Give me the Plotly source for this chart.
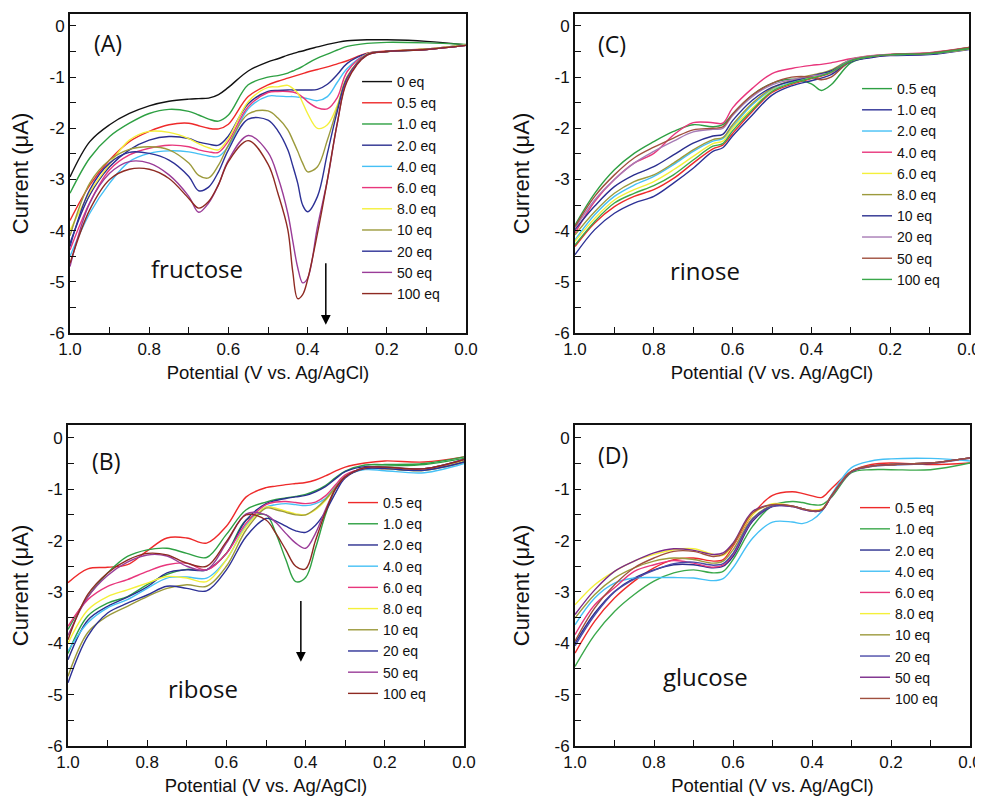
import plotly.graph_objects as go

# ---------------- data: (A) fructose ----------------
A_V = [1.0, 0.95, 0.9, 0.85, 0.8, 0.75, 0.7, 0.675, 0.65, 0.625, 0.6, 0.55, 0.5, 0.475,
       0.45, 0.4375, 0.425, 0.4125, 0.4, 0.375, 0.35, 0.325, 0.3, 0.25, 0.2, 0.1, 0.0]
A_0eq = [-2.95, -2.26, -1.93, -1.71, -1.56, -1.47, -1.43, -1.42, -1.41, -1.34, -1.20, -0.88, -0.70, -0.64,
         -0.57, -0.54, -0.51, -0.49, -0.46, -0.41, -0.36, -0.32, -0.29, -0.27, -0.27, -0.30, -0.37]
A_05eq = [-3.80, -3.11, -2.62, -2.26, -2.06, -1.93, -1.90, -1.95, -2.00, -2.01, -1.92, -1.38, -1.15, -1.08,
          -1.02, -0.99, -0.96, -0.93, -0.90, -0.85, -0.80, -0.74, -0.68, -0.53, -0.49, -0.45, -0.37]
A_1eq = [-3.27, -2.58, -2.16, -1.90, -1.71, -1.63, -1.67, -1.74, -1.82, -1.86, -1.74, -1.15, -1.00, -0.97,
         -0.92, -0.88, -0.84, -0.79, -0.73, -0.63, -0.55, -0.47, -0.40, -0.34, -0.32, -0.33, -0.36]
A_2eq = [-4.25, -3.30, -2.75, -2.42, -2.23, -2.16, -2.20, -2.27, -2.31, -2.33, -2.15, -1.52, -1.28, -1.26,
         -1.25, -1.25, -1.25, -1.25, -1.25, -1.24, -1.14, -0.95, -0.73, -0.54, -0.50, -0.45, -0.37]
A_4eq = [-4.50, -3.66, -3.07, -2.65, -2.49, -2.44, -2.46, -2.50, -2.54, -2.55, -2.35, -1.62, -1.37, -1.37,
         -1.38, -1.38, -1.39, -1.40, -1.42, -1.46, -1.38, -1.10, -0.83, -0.55, -0.50, -0.46, -0.37]
A_6eq = [-4.38, -3.45, -2.81, -2.52, -2.39, -2.33, -2.36, -2.42, -2.46, -2.47, -2.25, -1.58, -1.30, -1.28,
         -1.28, -1.29, -1.32, -1.39, -1.48, -1.60, -1.62, -1.40, -0.89, -0.55, -0.50, -0.46, -0.38]
A_8eq = [-4.00, -3.25, -2.70, -2.23, -2.06, -2.08, -2.20, -2.30, -2.38, -2.42, -2.20, -1.48, -1.20, -1.19,
         -1.16, -1.22, -1.31, -1.50, -1.71, -2.00, -1.93, -1.55, -1.00, -0.55, -0.50, -0.45, -0.37]
A_10eq = [-4.10, -3.07, -2.62, -2.41, -2.36, -2.42, -2.68, -2.92, -2.97, -2.72, -2.33, -1.72, -1.66, -1.80,
          -2.03, -2.23, -2.45, -2.68, -2.85, -2.75, -2.23, -1.60, -0.99, -0.56, -0.50, -0.46, -0.38]
A_20eq = [-4.31, -3.20, -2.68, -2.47, -2.49, -2.62, -2.94, -3.22, -3.15, -2.85, -2.42, -1.82, -1.84, -2.05,
          -2.42, -2.73, -3.07, -3.50, -3.63, -3.33, -2.49, -1.67, -1.02, -0.56, -0.50, -0.46, -0.38]
A_50eq = [-4.70, -3.46, -2.88, -2.65, -2.68, -2.91, -3.33, -3.64, -3.46, -3.10, -2.62, -2.14, -2.47, -2.95,
          -3.66, -4.20, -4.72, -5.02, -4.93, -3.92, -3.01, -1.90, -1.05, -0.57, -0.50, -0.46, -0.38]
A_100eq = [-4.64, -3.59, -3.00, -2.80, -2.80, -2.98, -3.37, -3.56, -3.43, -3.10, -2.65, -2.24, -2.70, -3.27,
           -3.98, -4.80, -5.33, -5.25, -4.96, -4.05, -3.01, -1.90, -1.08, -0.57, -0.50, -0.46, -0.38]

# ---------------- data: (B) ribose ----------------
B_V = [1.0, 0.95, 0.9, 0.85, 0.8, 0.75, 0.7, 0.65, 0.6, 0.55, 0.5, 0.475, 0.45, 0.425,
       0.4, 0.375, 0.35, 0.325, 0.3, 0.25, 0.2, 0.1, 0.0]
B_05eq = [-2.82, -2.55, -2.52, -2.47, -2.20, -1.95, -1.95, -2.05, -1.72, -1.15, -0.97, -0.94, -0.91, -0.89,
          -0.87, -0.82, -0.74, -0.65, -0.57, -0.49, -0.45, -0.47, -0.37]
B_1eq = [-3.73, -3.09, -2.63, -2.31, -2.18, -2.15, -2.25, -2.33, -1.88, -1.40, -1.25, -1.20, -1.17, -1.14,
         -1.10, -1.03, -0.93, -0.78, -0.65, -0.53, -0.52, -0.50, -0.37]
B_1eq_b = [-4.20, -3.47, -3.22, -3.09, -2.86, -2.66, -2.56, -2.57, -2.25, -1.60, -1.50, -1.86, -2.37, -2.80,
           -2.72, -2.15, -1.50, -1.00, -0.76, -0.58, -0.55, -0.52, -0.40]
B_2eq = [-4.32, -3.55, -3.28, -3.10, -2.90, -2.63, -2.57, -2.57, -2.25, -1.60, -1.28, -1.22, -1.18, -1.15,
         -1.12, -1.05, -0.95, -0.80, -0.66, -0.56, -0.58, -0.60, -0.42]
B_4eq = [-4.15, -3.60, -3.31, -3.15, -2.93, -2.73, -2.71, -2.73, -2.37, -1.70, -1.35, -1.30, -1.28, -1.30,
         -1.32, -1.28, -1.18, -0.95, -0.75, -0.62, -0.64, -0.68, -0.50]
B_6eq = [-3.67, -3.15, -2.89, -2.76, -2.60, -2.47, -2.44, -2.57, -2.25, -1.66, -1.30, -1.25, -1.24, -1.26,
         -1.28, -1.25, -1.13, -0.92, -0.72, -0.60, -0.60, -0.62, -0.45]
B_8eq = [-4.00, -3.35, -3.09, -2.96, -2.83, -2.70, -2.73, -2.80, -2.37, -1.73, -1.35, -1.37, -1.43, -1.48,
         -1.50, -1.40, -1.22, -0.98, -0.76, -0.60, -0.60, -0.63, -0.45]
B_10eq = [-4.64, -3.79, -3.47, -3.28, -3.09, -2.93, -2.86, -2.89, -2.50, -1.79, -1.37, -1.40, -1.45, -1.50,
          -1.50, -1.38, -1.20, -0.97, -0.76, -0.60, -0.60, -0.63, -0.47]
B_20eq = [-4.77, -3.86, -3.41, -3.22, -3.06, -2.89, -2.93, -2.98, -2.57, -1.92, -1.57, -1.62, -1.72, -1.81,
          -1.84, -1.70, -1.44, -1.08, -0.78, -0.60, -0.60, -0.63, -0.47]
B_50eq = [-3.85, -3.10, -2.68, -2.42, -2.28, -2.30, -2.50, -2.57, -2.05, -1.48, -1.50, -1.65, -1.86, -2.05,
          -2.15, -1.86, -1.40, -1.00, -0.76, -0.58, -0.57, -0.60, -0.42]
B_100eq = [-3.93, -3.05, -2.63, -2.38, -2.25, -2.28, -2.44, -2.50, -2.02, -1.50, -1.60, -1.86, -2.18, -2.50,
           -2.55, -2.00, -1.45, -1.00, -0.76, -0.58, -0.57, -0.60, -0.42]

# ---------------- data: (C) rinose ----------------
C_V = [1.0, 0.95, 0.9, 0.85, 0.8, 0.75, 0.7, 0.65, 0.625, 0.6, 0.55, 0.5, 0.45, 0.4,
       0.375, 0.35, 0.3, 0.25, 0.2, 0.1, 0.0]
C_05eq = [-3.89, -3.27, -2.81, -2.49, -2.26, -2.06, -1.93, -1.97, -1.93, -1.72, -1.35, -1.12, -1.04, -1.13,
          -1.26, -1.15, -0.72, -0.60, -0.56, -0.54, -0.42]
C_1eq = [-4.47, -3.98, -3.66, -3.46, -3.33, -3.07, -2.78, -2.45, -2.38, -2.15, -1.74, -1.35, -1.17, -1.07,
         -1.02, -0.95, -0.70, -0.62, -0.58, -0.56, -0.46]
C_2eq = [-4.18, -3.69, -3.33, -3.11, -2.94, -2.71, -2.45, -2.25, -2.20, -1.97, -1.54, -1.25, -1.10, -1.00,
         -0.95, -0.88, -0.67, -0.60, -0.56, -0.54, -0.44]
C_4eq = [-4.05, -3.43, -3.00, -2.68, -2.49, -2.13, -1.89, -1.89, -1.90, -1.60, -1.22, -0.93, -0.83, -0.77,
         -0.75, -0.72, -0.64, -0.58, -0.55, -0.52, -0.42]
C_6eq = [-4.21, -3.76, -3.40, -3.20, -3.04, -2.81, -2.55, -2.30, -2.25, -2.00, -1.61, -1.27, -1.12, -1.01,
         -0.96, -0.89, -0.68, -0.60, -0.56, -0.54, -0.45]
C_8eq = [-4.08, -3.63, -3.27, -3.04, -2.91, -2.68, -2.42, -2.22, -2.18, -1.93, -1.51, -1.22, -1.06, -0.96,
         -0.92, -0.86, -0.66, -0.59, -0.56, -0.53, -0.43]
C_10eq = [-3.98, -3.52, -3.14, -2.91, -2.75, -2.52, -2.29, -2.15, -2.12, -1.85, -1.45, -1.20, -1.08, -0.98,
          -0.93, -0.88, -0.67, -0.60, -0.56, -0.54, -0.44]
C_20eq = [-3.95, -3.40, -3.00, -2.68, -2.45, -2.25, -2.07, -2.02, -2.00, -1.75, -1.38, -1.15, -1.05, -0.98,
          -0.95, -0.90, -0.66, -0.59, -0.56, -0.53, -0.43]
C_50eq = [-3.92, -3.33, -2.91, -2.58, -2.37, -2.19, -2.03, -2.00, -1.97, -1.72, -1.35, -1.12, -1.00, -1.00,
          -1.05, -1.00, -0.68, -0.60, -0.56, -0.53, -0.42]
C_100eq = [-4.28, -3.82, -3.46, -3.27, -3.12, -2.91, -2.62, -2.35, -2.30, -2.05, -1.64, -1.28, -1.12, -1.02,
           -0.97, -0.90, -0.68, -0.60, -0.56, -0.54, -0.44]
C_extra = [-4.31, -3.85, -3.53, -3.33, -3.20, -2.98, -2.68, -2.40, -2.33, -2.10, -1.67, -1.30, -1.14, -1.03,
           -0.98, -0.91, -0.69, -0.61, -0.57, -0.55, -0.45]

# ---------------- data: (D) glucose ----------------
D_V = [1.0, 0.95, 0.9, 0.85, 0.8, 0.75, 0.7, 0.65, 0.625, 0.6, 0.55, 0.5, 0.45, 0.425,
       0.4, 0.375, 0.35, 0.3, 0.25, 0.2, 0.1, 0.0]
D_05eq = [-4.19, -3.57, -3.12, -2.79, -2.53, -2.37, -2.34, -2.40, -2.37, -2.11, -1.49, -1.12, -1.05, -1.08,
          -1.13, -1.16, -0.98, -0.65, -0.52, -0.49, -0.52, -0.49]
D_1eq = [-4.45, -3.83, -3.38, -3.05, -2.79, -2.63, -2.57, -2.63, -2.60, -2.37, -1.72, -1.32, -1.24, -1.26,
         -1.30, -1.30, -1.15, -0.68, -0.62, -0.62, -0.62, -0.49]
D_2eq = [-4.00, -3.41, -2.99, -2.73, -2.57, -2.47, -2.47, -2.53, -2.50, -2.31, -1.62, -1.34, -1.33, -1.38,
         -1.42, -1.40, -1.12, -0.66, -0.56, -0.53, -0.50, -0.40]
D_4eq = [-3.64, -3.12, -2.83, -2.73, -2.72, -2.72, -2.73, -2.78, -2.74, -2.53, -1.95, -1.64, -1.64, -1.67,
         -1.60, -1.43, -1.10, -0.58, -0.45, -0.41, -0.40, -0.45]
D_6eq = [-3.83, -3.25, -2.92, -2.60, -2.47, -2.39, -2.44, -2.52, -2.48, -2.27, -1.59, -1.33, -1.34, -1.39,
         -1.43, -1.41, -1.13, -0.66, -0.55, -0.52, -0.49, -0.39]
D_8eq = [-3.25, -2.86, -2.60, -2.40, -2.27, -2.18, -2.16, -2.27, -2.29, -2.08, -1.49, -1.28, -1.33, -1.38,
         -1.41, -1.38, -1.12, -0.65, -0.55, -0.52, -0.49, -0.39]
D_10eq = [-3.51, -3.05, -2.73, -2.53, -2.40, -2.34, -2.37, -2.44, -2.40, -2.18, -1.56, -1.32, -1.33, -1.38,
          -1.42, -1.40, -1.12, -0.66, -0.55, -0.52, -0.49, -0.39]
D_20eq = [-4.05, -3.45, -3.00, -2.75, -2.58, -2.45, -2.42, -2.48, -2.45, -2.25, -1.58, -1.33, -1.34, -1.39,
          -1.43, -1.41, -1.13, -0.66, -0.55, -0.52, -0.49, -0.39]
D_50eq = [-3.44, -2.96, -2.60, -2.40, -2.24, -2.16, -2.19, -2.27, -2.24, -2.05, -1.43, -1.30, -1.33, -1.38,
          -1.42, -1.40, -1.12, -0.65, -0.55, -0.52, -0.49, -0.39]
D_100eq = [-3.96, -3.31, -2.86, -2.53, -2.34, -2.21, -2.21, -2.31, -2.27, -2.08, -1.46, -1.30, -1.33, -1.38,
           -1.42, -1.40, -1.12, -0.65, -0.55, -0.52, -0.49, -0.39]

# ---------------- labels / ticks ----------------
X_TICKS = [1.0, 0.8, 0.6, 0.4, 0.2, 0.0]
X_TICKTEXT = ["1.0", "0.8", "0.6", "0.4", "0.2", "0.0"]
Y_TICKS = [0, -1, -2, -3, -4, -5, -6]
Y_TICKTEXT = ["0", "-1", "-2", "-3", "-4", "-5", "-6"]

COL = dict(black="#111111", red="#ee2a2a", green="#2ea043", navy="#2b2f8f", lblue="#45c0f5",
           pink="#e8367c", yellow="#f4f03a", olive="#9c9a3c", indigo="#2d3196", purple="#9a3c98",
           brown="#8e2a22", mauve="#a77bb5", rbrown="#a0503e", green2="#3aa84a")

panels = {
    "A": dict(xa="x", ya="y", legend="legend", V=A_V, series=[
        ("0 eq", A_0eq, COL["black"]), ("0.5 eq", A_05eq, COL["red"]), ("1.0 eq", A_1eq, COL["green"]),
        ("2.0 eq", A_2eq, COL["navy"]), ("4.0 eq", A_4eq, COL["lblue"]), ("6.0 eq", A_6eq, COL["pink"]),
        ("8.0 eq", A_8eq, COL["yellow"]), ("10 eq", A_10eq, COL["olive"]), ("20 eq", A_20eq, COL["indigo"]),
        ("50 eq", A_50eq, COL["purple"]), ("100 eq", A_100eq, COL["brown"])], extra=[]),
    "C": dict(xa="x2", ya="y2", legend="legend2", V=C_V, series=[
        ("0.5 eq", C_05eq, COL["green"]), ("1.0 eq", C_1eq, COL["indigo"]), ("2.0 eq", C_2eq, COL["lblue"]),
        ("4.0 eq", C_4eq, COL["pink"]), ("6.0 eq", C_6eq, COL["yellow"]), ("8.0 eq", C_8eq, COL["olive"]),
        ("10 eq", C_10eq, COL["navy"]), ("20 eq", C_20eq, COL["mauve"]), ("50 eq", C_50eq, COL["rbrown"]),
        ("100 eq", C_100eq, COL["green2"])], extra=[("extra", C_extra, COL["red"])]),
    "B": dict(xa="x3", ya="y3", legend="legend3", V=B_V, series=[
        ("0.5 eq", B_05eq, COL["red"]), ("1.0 eq", B_1eq, COL["green"]), ("2.0 eq", B_2eq, COL["navy"]),
        ("4.0 eq", B_4eq, COL["lblue"]), ("6.0 eq", B_6eq, COL["pink"]), ("8.0 eq", B_8eq, COL["yellow"]),
        ("10 eq", B_10eq, COL["olive"]), ("20 eq", B_20eq, COL["indigo"]), ("50 eq", B_50eq, COL["purple"]),
        ("100 eq", B_100eq, COL["brown"])], extra=[("1.0 eq b", B_1eq_b, COL["green"])]),
    "D": dict(xa="x4", ya="y4", legend="legend4", V=D_V, series=[
        ("0.5 eq", D_05eq, COL["red"]), ("1.0 eq", D_1eq, COL["green2"]), ("2.0 eq", D_2eq, COL["navy"]),
        ("4.0 eq", D_4eq, COL["lblue"]), ("6.0 eq", D_6eq, COL["pink"]), ("8.0 eq", D_8eq, COL["yellow"]),
        ("10 eq", D_10eq, COL["olive"]), ("20 eq", D_20eq, "#4a4aa8"), ("50 eq", D_50eq, "#7a2a8a"),
        ("100 eq", D_100eq, COL["rbrown"])], extra=[]),
}

fig = go.Figure()
for key, p in panels.items():
    for name, vals, color in p["extra"]:
        fig.add_trace(go.Scatter(x=p["V"], y=vals, mode="lines", name=name, showlegend=False,
                                 line=dict(color=color, width=1.4, shape="spline", smoothing=1.0),
                                 xaxis=p["xa"], yaxis=p["ya"], hoverinfo="skip"))
    for name, vals, color in p["series"]:
        fig.add_trace(go.Scatter(x=p["V"], y=vals, mode="lines", name=name, legend=p["legend"],
                                 line=dict(color=color, width=1.4, shape="spline", smoothing=1.0),
                                 xaxis=p["xa"], yaxis=p["ya"]))

FAM = "Liberation Sans, Arial, sans-serif"
TICKFONT = dict(family=FAM, size=17, color="#111")
XTITLEFONT = dict(family=FAM, size=18.5, color="#111")
YTITLEFONT = dict(family=FAM, size=22, color="#111")

def xaxis(domain, anchor):
    return dict(domain=domain, anchor=anchor, range=[1.0, 0.0], automargin=False, tickmode="array",
                tickvals=X_TICKS, ticktext=X_TICKTEXT, ticks="inside", ticklen=6, tickwidth=1.3, tickcolor="#111",
                minor=dict(ticks="inside", ticklen=6, tickwidth=1.3, tickcolor="#111", dtick=0.1, tick0=0),
                showline=True, linewidth=1.8, linecolor="#111", mirror=True, showgrid=False, zeroline=False,
                tickfont=TICKFONT, title=dict(text="Potential (V vs. Ag/AgCl)", font=XTITLEFONT, standoff=8))

def yaxis(domain, anchor, top):
    return dict(domain=domain, anchor=anchor, range=[-6, top], automargin=False, tickmode="array",
                tickvals=Y_TICKS, ticktext=Y_TICKTEXT, ticks="inside", ticklen=6, tickwidth=1.3, tickcolor="#111",
                minor=dict(ticks="inside", ticklen=6, tickwidth=1.3, tickcolor="#111", dtick=0.5, tick0=0),
                showline=True, linewidth=1.8, linecolor="#111", mirror=True, showgrid=False, zeroline=False,
                tickfont=TICKFONT, title=dict(text="Current (μA)", font=YTITLEFONT, standoff=19))

LEG = dict(font=dict(family=FAM, size=14, color="#111"),
           bgcolor="rgba(0,0,0,0)", xanchor="left", yanchor="top", tracegroupgap=0)

# The page places the figure 8 px from the window's top-left corner, so the figure is 8 px smaller.
fig.update_layout(
    template="none",
    width=975, height=790, margin=dict(l=0, r=0, t=0, b=0, pad=0), autosize=False,
    paper_bgcolor="white", plot_bgcolor="white", showlegend=True,
    font=dict(family=FAM, color="#111"),
    xaxis=xaxis([0.06359, 0.46974], "y"), yaxis=yaxis([0.58861, 0.99241], "x", 0.234),
    xaxis2=xaxis([0.58154, 0.98564], "y2"), yaxis2=yaxis([0.58861, 0.99241], "x2", 0.234),
    xaxis3=xaxis([0.06154, 0.46769], "y3"), yaxis3=yaxis([0.06582, 0.47215], "x3", 0.25),
    xaxis4=xaxis([0.58154, 0.98667], "y4"), yaxis4=yaxis([0.06582, 0.47215], "x4", 0.25),
    legend=dict(LEG, x=0.358, y=0.9266),
    legend2=dict(LEG, x=0.8708, y=0.9177),
    legend3=dict(LEG, x=0.3436, y=0.3937),
    legend4=dict(LEG, x=0.8687, y=0.3873),
)

LBL = dict(family="Open Sans, Noto Sans, sans-serif", size=23, color="#111")
NAME = dict(family="Open Sans, Noto Sans, sans-serif", size=24, color="#111")
labels = [("(A)", "x", "y", 0.905, -0.33, LBL), ("(C)", "x2", "y2", 0.905, -0.35, LBL),
          ("(B)", "x3", "y3", 0.905, -0.45, LBL), ("(D)", "x4", "y4", 0.905, -0.33, LBL),
          ("fructose", "x", "y", 0.68, -4.73, NAME), ("rinose", "x2", "y2", 0.67, -4.77, NAME),
          ("ribose", "x3", "y3", 0.66, -4.89, NAME), ("glucose", "x4", "y4", 0.67, -4.65, NAME)]
for text, xr, yr, xv, yv, font in labels:
    fig.add_annotation(text=text, x=xv, y=yv, xref=xr, yref=yr, showarrow=False, font=font)

# arrows (head at x,y; tail at ax,ay)
fig.add_annotation(x=0.354, y=-5.84, ax=0.354, ay=-4.61, xref="x", yref="y", axref="x", ayref="y",
                   showarrow=True, arrowhead=2, arrowsize=1.3, arrowwidth=1.5, arrowcolor="#000", text="")
fig.add_annotation(x=0.412, y=-4.36, ax=0.412, ay=-3.15, xref="x3", yref="y3", axref="x3", ayref="y3",
                   showarrow=True, arrowhead=2, arrowsize=1.3, arrowwidth=1.5, arrowcolor="#000", text="")

fig.write_html("out.html")
